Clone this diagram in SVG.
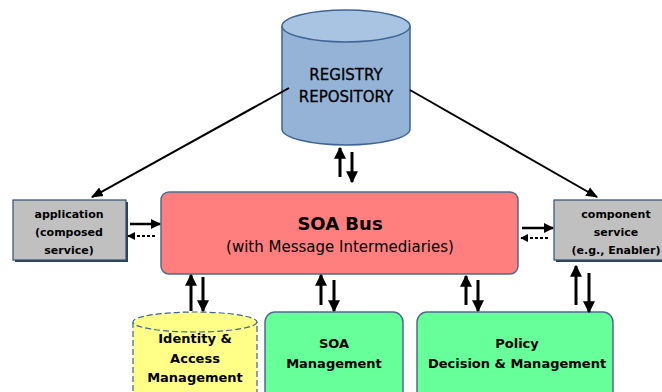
<svg xmlns="http://www.w3.org/2000/svg" width="662" height="392" viewBox="0 0 662 392">
<defs>
<marker id="ah" viewBox="0 0 10 10" refX="9" refY="5" markerWidth="4" markerHeight="4" orient="auto" markerUnits="strokeWidth">
<path d="M0,0 L10,5 L0,10 z" fill="#000"/>
</marker>
<marker id="ah2" viewBox="0 0 10 10" refX="9" refY="5" markerWidth="6" markerHeight="6" orient="auto" markerUnits="strokeWidth">
<path d="M0,1 L10,5 L0,9 z" fill="#000"/>
</marker>
</defs>
<style>
text{font-family:"DejaVu Sans","Liberation Sans",sans-serif;fill:#000;text-anchor:middle}
.b{font-weight:bold}
.s{font-size:11px;font-weight:bold}
.m{font-size:13px}
.ar{stroke:#000;stroke-width:3;fill:none;marker-end:url(#ah)}
.ln{stroke:#000;stroke-width:2;fill:none;marker-end:url(#ah2)}
.ds{stroke:#000;stroke-width:2;stroke-dasharray:3,2;fill:none;marker-end:url(#ah)}
.sd{stroke:#000;stroke-width:2.5;fill:none;marker-end:url(#ah)}
</style>
<g id="repository">
<path d="M282,26 L282,129 A64,16 0 0 0 410,129 L410,26" fill="#95B3D7" stroke="#3E6494" stroke-width="1.5"/>
<ellipse cx="346" cy="26" rx="64" ry="16" fill="#A9C3E2" stroke="#3E6494" stroke-width="1.5"/>
<text x="346" y="80" font-size="15" stroke="#000" stroke-width="0.3">REGISTRY</text>
<text x="346" y="102" font-size="15" stroke="#000" stroke-width="0.3">REPOSITORY</text>
</g>
<g id="soa-bus">
<rect x="161" y="192" width="357" height="82" rx="8" fill="#FF7F7F" stroke="#4F6B8F" stroke-width="1.5"/>
<text x="340" y="230" class="b" font-size="18">SOA Bus</text>
<text x="340" y="252" font-size="15">(with Message Intermediaries)</text>
</g>
<g id="application">
<rect x="15" y="202" width="113" height="60" fill="#2F3F55"/>
<rect x="13" y="200" width="113" height="60" fill="#C0C0C0" stroke="#2F4F6F" stroke-width="1.2"/>
<text x="69" y="218" class="s">application</text>
<text x="69" y="236" class="s">(composed</text>
<text x="69" y="254" class="s">service)</text>
</g>
<g id="component">
<rect x="556" y="202" width="110" height="60" fill="#2F3F55"/>
<rect x="554" y="200" width="110" height="60" fill="#C0C0C0" stroke="#2F4F6F" stroke-width="1.2"/>
<text x="616" y="218" class="s">component</text>
<text x="616" y="236" class="s">service</text>
<text x="616" y="254" class="s">(e.g., Enabler)</text>
</g>
<g id="identity">
<path d="M133,322 L133,400 L257,400 L257,322" fill="#FFFF88" stroke="#3E6494" stroke-width="1.2" stroke-dasharray="6,3"/>
<ellipse cx="195" cy="322" rx="62" ry="10" fill="#FFFF88" stroke="#3E6494" stroke-width="1.2" stroke-dasharray="6,3"/>
<text x="195" y="343" class="m b">Identity &amp;</text>
<text x="195" y="363" class="m b">Access</text>
<text x="195" y="382" class="m b">Management</text>
</g>
<g id="soa-management">
<rect x="265" y="312" width="138" height="100" rx="10" fill="#66FF99" stroke="#4F6B8F" stroke-width="1.5"/>
<text x="334" y="348" class="m b">SOA</text>
<text x="334" y="368" class="m b">Management</text>
</g>
<g id="policy">
<rect x="417" y="312" width="196" height="100" rx="10" fill="#66FF99" stroke="#4F6B8F" stroke-width="1.5"/>
<text x="517" y="348" class="m b">Policy</text>
<text x="517" y="368" class="m b">Decision &amp; Management</text>
</g>
<g id="connectors">
<line x1="289" y1="88" x2="92" y2="197" class="ln"/>
<line x1="410" y1="90" x2="597" y2="197" class="ln"/>
<line x1="340" y1="177" x2="340" y2="148" class="ar"/>
<line x1="352" y1="152" x2="352" y2="182" class="ar"/>
<line x1="130" y1="224" x2="160" y2="224" class="sd"/>
<line x1="155" y1="236" x2="128" y2="236" class="ds"/>
<line x1="522" y1="228" x2="553" y2="228" class="sd"/>
<line x1="548" y1="238" x2="521" y2="238" class="ds"/>
<line x1="191" y1="311" x2="191" y2="275" class="ar"/>
<line x1="203" y1="277" x2="203" y2="311" class="ar"/>
<line x1="321" y1="305" x2="321" y2="275" class="ar"/>
<line x1="334" y1="280" x2="334" y2="311" class="ar"/>
<line x1="466" y1="305" x2="466" y2="276" class="ar"/>
<line x1="478" y1="280" x2="478" y2="311" class="ar"/>
<line x1="576" y1="305" x2="576" y2="266" class="ar"/>
<line x1="589" y1="273" x2="589" y2="312" class="ar"/>
</g>
</svg>
